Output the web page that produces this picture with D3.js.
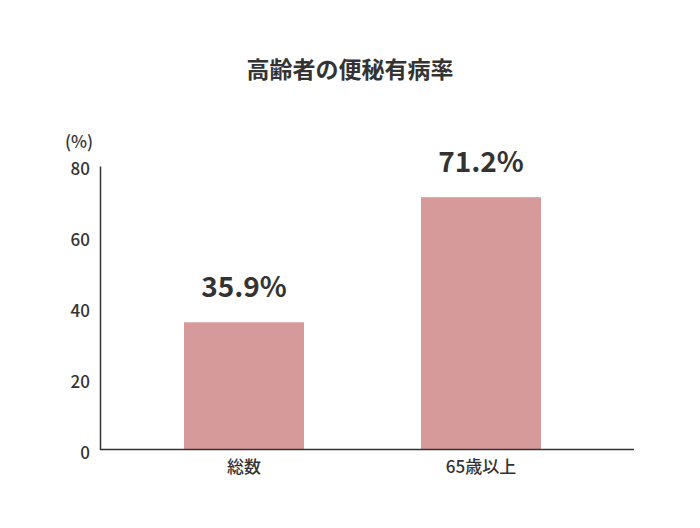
<!DOCTYPE html>
<html><head><meta charset="utf-8">
<script src="https://cdn.jsdelivr.net/npm/d3@7"></script>
<style>body{margin:0;background:#fff;}svg{display:block;font-family:"Noto Sans CJK JP","Noto Sans",sans-serif;}</style>
</head><body>
<svg id="c" width="700" height="528"></svg>
<script>
const categories = ["総数", "65歳以上"];
const values = [35.9, 71.2];
const valueLabels = ["35.9%", "71.2%"];
const yTicks = [0, 20, 40, 60, 80];
const title = "高齢者の便秘有病率";
const unit = "(%)";

const svg = d3.select("#c");
const x = d3.scaleBand().domain(categories).range([125.5, 599.5]).paddingInner(0.4937).paddingOuter(0.2468);
const y = d3.scaleLinear().domain([0, 80]).range([449.5, 166]);
const ink = "#333";
const ff = "'Noto Sans CJK JP','Noto Sans',sans-serif";

svg.append("text").attr("x", 350).attr("y", 78).attr("text-anchor", "middle")
  .attr("font-size", 23).attr("font-weight", "bold").attr("fill", ink).text(title);

svg.selectAll("rect.bar").data(values).enter().append("rect")
  .attr("class", "bar")
  .attr("x", (d, i) => x(categories[i]))
  .attr("width", x.bandwidth())
  .attr("y", d => y(d))
  .attr("height", d => y(0) - y(d))
  .attr("fill", "#d69a9a");

svg.selectAll("text.val").data(values).enter().append("text")
  .attr("class", "val")
  .attr("x", (d, i) => x(categories[i]) + x.bandwidth() / 2)
  .attr("y", d => y(d) - 25)
  .attr("text-anchor", "middle").attr("font-size", 28).attr("font-weight", "bold")
  .attr("fill", ink).text((d, i) => valueLabels[i]);

const yAxis = d3.axisLeft(y).tickValues(yTicks).tickSize(0).tickPadding(10);
const gy = svg.append("g").attr("transform", "translate(100,0)").call(yAxis);
gy.select(".domain").attr("stroke", ink).attr("stroke-width", 1.5);
gy.selectAll("text").attr("font-size", 17).attr("font-weight", 500).attr("fill", ink).attr("font-family", ff)
  .attr("dy", "0.5em");

const xAxis = d3.axisBottom(x).tickSize(0).tickPadding(11);
const gx = svg.append("g").attr("transform", "translate(0,449.5)").call(xAxis);
gx.select(".domain").attr("d", "M100,0H634").attr("stroke", ink).attr("stroke-width", 1.5);
gx.selectAll("text").attr("font-size", 17).attr("font-weight", 500).attr("fill", ink).attr("font-family", ff);

svg.append("text").attr("x", 79).attr("y", 148).attr("text-anchor", "middle")
  .attr("font-size", 17).attr("font-weight", 500).attr("fill", ink).text(unit);
</script>
</body></html>
